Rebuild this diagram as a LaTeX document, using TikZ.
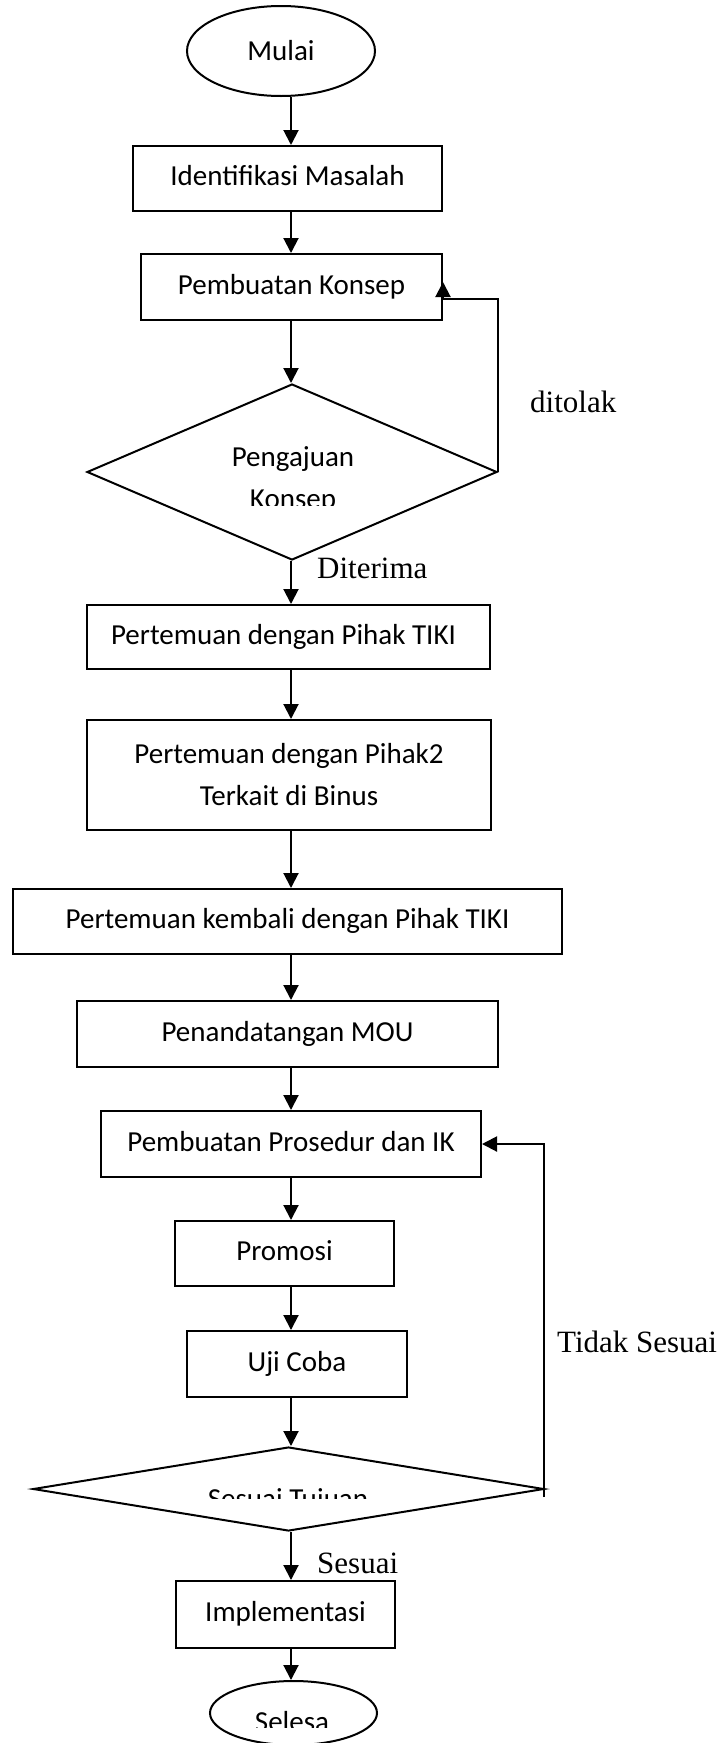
\documentclass[tikz,border=0pt]{standalone}
\usepackage{fontspec}
\setmainfont{Carlito}
\newfontfamily\tnr{Liberation Serif}
\usetikzlibrary{shapes.geometric,arrows.meta}
\begin{document}
\begin{tikzpicture}[x=1pt,y=-1pt,
  box/.style={draw,line width=2pt,rectangle,inner sep=0pt,font=\fontsize{29}{42}\selectfont,align=center,text height=21pt,text depth=7pt},
  term/.style={draw,line width=2pt,ellipse,inner sep=0pt,font=\fontsize{29}{42}\selectfont},
  dec/.style={draw,line width=2pt,diamond,inner sep=0pt},
  txt/.style={inner sep=0pt,anchor=base,font=\fontsize{29}{42}\selectfont},
  lbl/.style={inner sep=0pt,anchor=base west,font=\tnr\fontsize{31}{36}\selectfont},
  arr/.style={line width=2pt,-{Triangle[length=15pt,width=15pt]}}
]
\useasboundingbox (0,0) rectangle (723,1743);
\coordinate (ax) at (291,0);

% nodes
\node[term,minimum width=188pt,minimum height=90pt] (start) at (281,51) {Mulai};
\node[box,minimum width=309pt,minimum height=65pt] (b1) at (287.5,178.5) {Identifikasi Masalah};
\node[box,minimum width=301pt,minimum height=66pt] (b2) at (291.5,287) {Pembuatan Konsep};
\node[dec,minimum width=410pt,minimum height=176pt] (d1) at (292,472) {};
\begin{scope}
  \clip (87,384) rectangle (497,505);
  \node[txt] (d1a) at (293,466) {Pengajuan};
  \node[txt] (d1b) at (293,508) {Konsep};
\end{scope}
\node[box,minimum width=403pt,minimum height=64pt] (b3) at (288.5,637) {Pertemuan dengan Pihak TIKI\hspace*{10pt}};
\node[box,minimum width=404pt,minimum height=110pt,text height=,text depth=] (b4) at (289,775) {Pertemuan dengan Pihak2\\Terkait di Binus};
\node[box,minimum width=549pt,minimum height=65pt] (b5) at (287.5,921.5) {Pertemuan kembali dengan Pihak TIKI};
\node[box,minimum width=421pt,minimum height=66pt] (b6) at (287.5,1034) {Penandatangan MOU};
\node[box,minimum width=380pt,minimum height=66pt] (b7) at (291,1144) {Pembuatan Prosedur dan IK};
\node[box,minimum width=219pt,minimum height=65pt] (b8) at (284.5,1253.5) {Promosi};
\node[box,minimum width=220pt,minimum height=66pt] (b9) at (297,1364) {Uji Coba};
\node[dec,minimum width=511pt,minimum height=84pt] (d2) at (288.5,1489) {};
\begin{scope}
  \clip (33,1447) rectangle (544,1498);
  \node[txt] (d2a) at (288,1508) {Sesuai Tujuan};
\end{scope}
\node[box,minimum width=219pt,minimum height=67pt] (b10) at (285.5,1614.5) {Implementasi};
\node[term,minimum width=167pt,minimum height=64pt] (stop) at (293.5,1713) {};
\begin{scope}
  \clip (200,1681) rectangle (390,1727);
  \node[txt] (stopt) at (292,1731) {Selesa};
\end{scope}

% labels
\node[lbl] (l1) at (530,412) {ditolak};
\node[lbl] (l2) at (317,578) {Diterima};
\node[lbl] (l3) at (557,1352) {Tidak Sesuai};
\node[lbl] (l4) at (317,1573) {Sesuai};

% connectors
\draw[arr] (start.south -| ax) -- (b1.north -| ax);
\draw[arr] (b1.south -| ax) -- (b2.north -| ax);
\draw[arr] (b2.south -| ax) -- (d1.north -| ax);
\draw[arr] (d1.south -| ax) -- (b3.north -| ax);
\draw[arr] (b3.south -| ax) -- (b4.north -| ax);
\draw[arr] (b4.south -| ax) -- (b5.north -| ax);
\draw[arr] (b5.south -| ax) -- (b6.north -| ax);
\draw[arr] (b6.south -| ax) -- (b7.north -| ax);
\draw[arr] (b7.south -| ax) -- (b8.north -| ax);
\draw[arr] (b8.south -| ax) -- (b9.north -| ax);
\draw[arr] (b9.south -| ax) -- (d2.north -| ax);
\draw[arr] (d2.south -| ax) -- (b10.north -| ax);
\draw[arr] (b10.south -| ax) -- (stop.north -| ax);

\coordinate (k2) at (443,299);
\coordinate (k3) at (443,282);
\draw[arr] (d1.east) |- (k2) -- (k3);
\coordinate (k4) at (544,1497);
\draw[arr] (k4) |- (b7.east);
\end{tikzpicture}
\end{document}
